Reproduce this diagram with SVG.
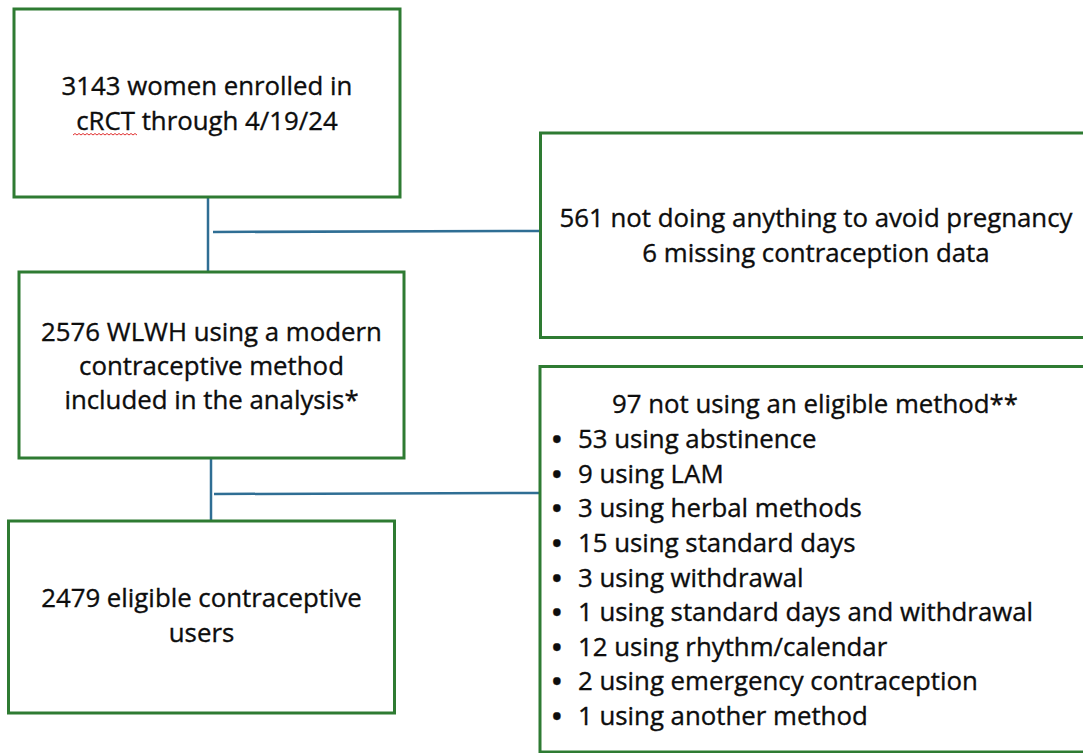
<svg xmlns="http://www.w3.org/2000/svg" width="1083" height="753" viewBox="0 0 1083 753">
  <style>
    .box { fill: #ffffff; stroke: #2E7B32; stroke-width: 3; }
    .conn { fill: none; stroke: #2F6E94; stroke-width: 2.5; }
    .t { font-family: "Open Sans", "Liberation Sans", sans-serif; font-size: 25.8px; fill: #0d0d0d; stroke: #0d0d0d; stroke-width: 0.35; }
    .c { text-anchor: middle; }
    .b { font-weight: bold; }
  </style>
  <rect width="1083" height="753" fill="#ffffff"/>

  <g id="connectors">
    <line class="conn" x1="208" y1="197" x2="208" y2="272"/>
    <line class="conn" x1="213" y1="232" x2="541" y2="231"/>
    <line class="conn" x1="211" y1="458" x2="211" y2="521"/>
    <line class="conn" x1="214" y1="494" x2="540" y2="493"/>
  </g>

  <g id="enrolled">
    <rect class="box" x="14" y="9" width="386" height="188"/>
    <text class="t c" x="207" y="95">3143 women enrolled in</text>
    <text class="t c" x="207" y="129.5">cRCT through 4/19/24</text>
    <path d="M73 135 l2 -1.5 l2 1.5 l2 -1.5 l2 1.5 l2 -1.5 l2 1.5 l2 -1.5 l2 1.5 l2 -1.5 l2 1.5 l2 -1.5 l2 1.5 l2 -1.5 l2 1.5 l2 -1.5 l2 1.5 l2 -1.5 l2 1.5 l2 -1.5 l2 1.5 l2 -1.5 l2 1.5 l2 -1.5 l2 1.5 l2 -1.5 l2 1.5 l2 -1.5 l2 1.5 l2 -1.5 l2 1.5 l2 -1.5 l2 1.5" fill="none" stroke="#E03030" stroke-width="1"/>
  </g>

  <g id="excluded-1">
    <rect class="box" x="540.5" y="133" width="560" height="204.5"/>
    <text class="t c" x="816" y="226.7">561 not doing anything to avoid pregnancy</text>
    <text class="t c" x="816" y="261.7">6 missing contraception data</text>
  </g>

  <g id="modern-users">
    <rect class="box" x="19" y="272" width="385" height="186"/>
    <text class="t c" x="211.5" y="341">2576 WLWH using a modern</text>
    <text class="t c" x="211.5" y="375">contraceptive method</text>
    <text class="t c" x="211.5" y="409">included in the analysis*</text>
  </g>

  <g id="excluded-2">
    <rect class="box" x="540" y="366.5" width="560" height="385.5"/>
    <text class="t c" x="815" y="413">97 not using an eligible method**</text>
    <text class="t b" x="552" y="448">•</text><text class="t" x="578" y="448">53 using abstinence</text>
    <text class="t b" x="552" y="482.6">•</text><text class="t" x="578" y="482.6">9 using LAM</text>
    <text class="t b" x="552" y="517.3">•</text><text class="t" x="578" y="517.3">3 using herbal methods</text>
    <text class="t b" x="552" y="551.9">•</text><text class="t" x="578" y="551.9">15 using standard days</text>
    <text class="t b" x="552" y="586.5">•</text><text class="t" x="578" y="586.5">3 using withdrawal</text>
    <text class="t b" x="552" y="621.1">•</text><text class="t" x="578" y="621.1">1 using standard days and withdrawal</text>
    <text class="t b" x="552" y="655.8">•</text><text class="t" x="578" y="655.8">12 using rhythm/calendar</text>
    <text class="t b" x="552" y="690.4">•</text><text class="t" x="578" y="690.4">2 using emergency contraception</text>
    <text class="t b" x="552" y="725">•</text><text class="t" x="578" y="725">1 using another method</text>
  </g>

  <g id="eligible-users">
    <rect class="box" x="8.5" y="521" width="386" height="192"/>
    <text class="t c" x="201.5" y="607.3">2479 eligible contraceptive</text>
    <text class="t c" x="201.5" y="641.7">users</text>
  </g>
</svg>
